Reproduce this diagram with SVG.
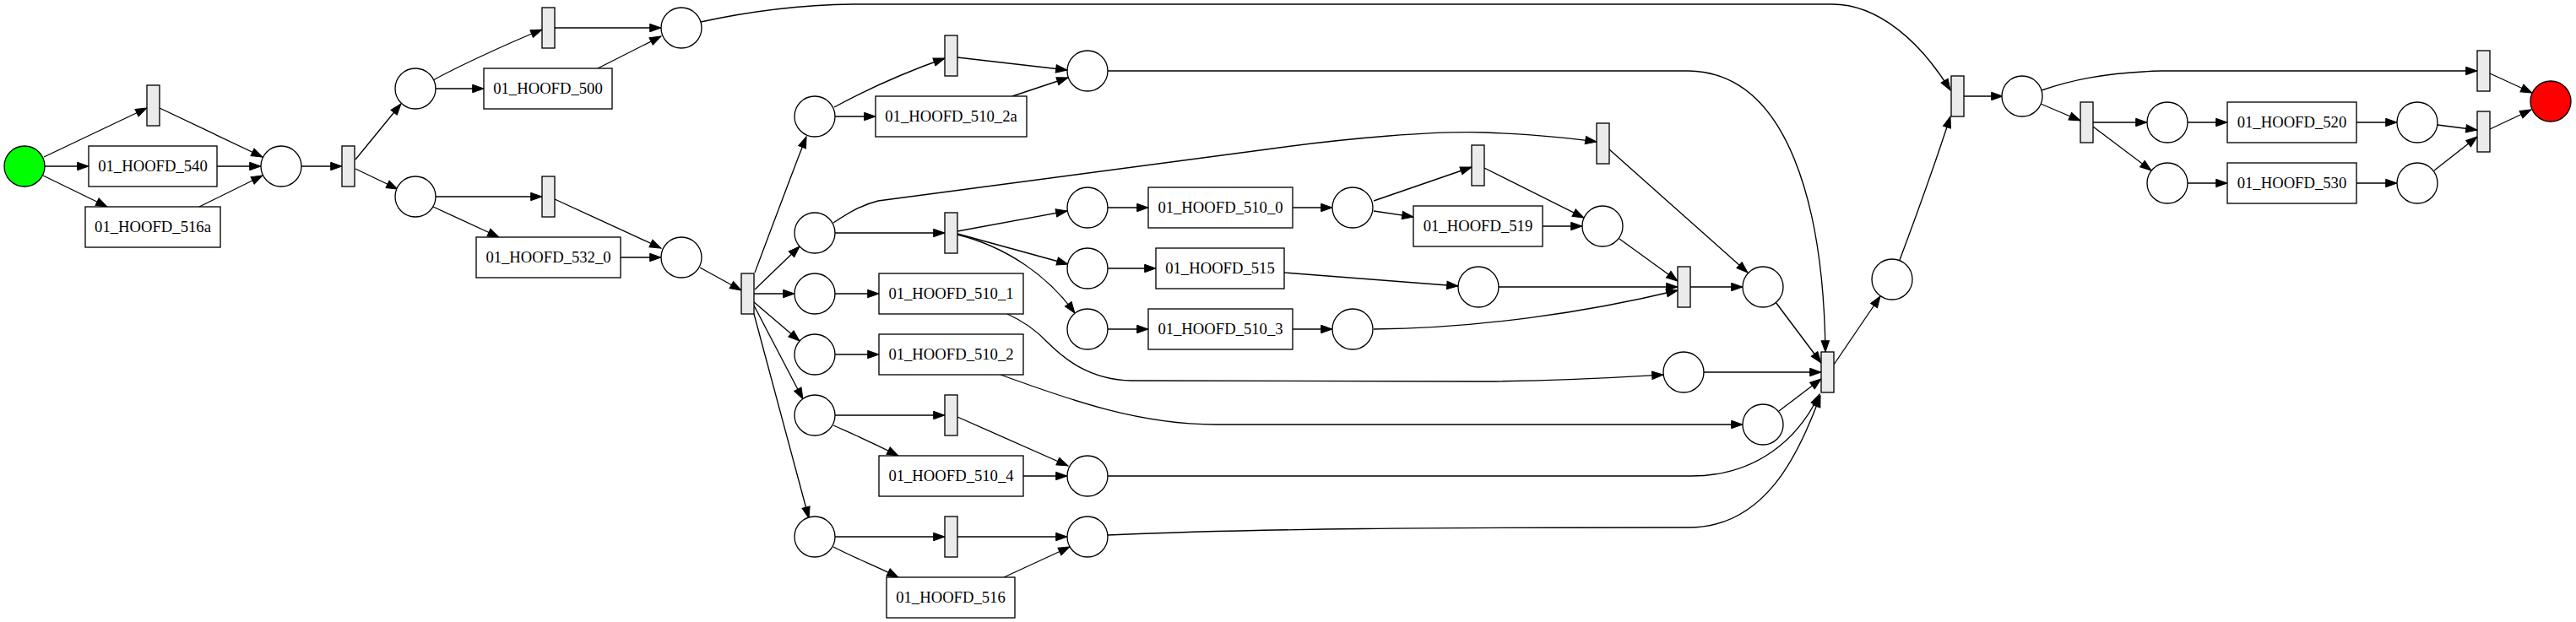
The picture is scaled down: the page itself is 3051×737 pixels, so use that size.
<svg xmlns="http://www.w3.org/2000/svg" width="3051" height="737" viewBox="0 0 3051 737">
<defs>
<marker id="ah" viewBox="0 0 14 10" refX="13.3" refY="5" markerWidth="14" markerHeight="10" markerUnits="userSpaceOnUse" orient="auto" overflow="visible">
<path d="M0,0.3 L13.3,5 L0,9.7 z" fill="#000" stroke="#000" stroke-width="1"/>
</marker>
</defs>
<style>
.pl{fill:#fff;stroke:#000;stroke-width:1.33}
.tr{fill:#ebebeb;stroke:#000;stroke-width:1.33}
.bx{fill:#fff;stroke:#000;stroke-width:1.33}
.lb{font-family:"Liberation Serif","Times New Roman",serif;font-size:18.67px;text-anchor:middle;fill:#000}
.e{fill:none;stroke:#000;stroke-width:1.33;marker-end:url(#ah)}
</style>
<rect width="3051" height="737" fill="#fff"/>
<g id="connectors">
<path class="e" d="M52,186 L174,128"/>
<path class="e" d="M53,197 L105,197"/>
<path class="e" d="M51,208 L127,245"/>
<path class="e" d="M189,128 L311,186"/>
<path class="e" d="M257,197 L309,197"/>
<path class="e" d="M236,245 L311,208"/>
<path class="e" d="M357,197 L405,197"/>
<path class="e" d="M421,189 L475,123"/>
<path class="e" d="M421,200 L471,224"/>
<path class="e" d="M513,95 C540,80 600,52 642,35"/>
<path class="e" d="M516,105 L573,105"/>
<path class="e" d="M657,33 L783,33"/>
<path class="e" d="M708,81 L783,43"/>
<path class="e" d="M830,26 C880,15 940,6 1010,5 L2170,5 C2225,5 2275,50 2310,107"/>
<path class="e" d="M516,233 L642,233"/>
<path class="e" d="M513,245 L591,281"/>
<path class="e" d="M657,236 L783,294"/>
<path class="e" d="M735,305 L783,305"/>
<path class="e" d="M829,317 L878,344"/>
<path class="e" d="M894,323 C903,299 940,200 955,162"/>
<path class="e" d="M894,343 L947,292"/>
<path class="e" d="M893,348 L941,348"/>
<path class="e" d="M893,358 L947,404"/>
<path class="e" d="M893,362 L951,473"/>
<path class="e" d="M893,372 L958,614"/>
<path class="e" d="M988,127 C1010,115 1060,90 1119,69"/>
<path class="e" d="M989,138 L1037,138"/>
<path class="e" d="M1134,68 L1264,83"/>
<path class="e" d="M1199,114 L1265,92"/>
<path class="e" d="M1312,84 L2000,84 C2120,86 2160,250 2162,417"/>
<path class="e" d="M989,276 L1119,276"/>
<path class="e" d="M987,264 C1005,252 1020,243 1040,238 L1500,177 C1600,163 1700,155 1760,157 C1810,159 1850,162 1891,168"/>
<path class="e" d="M989,348 L1041,348"/>
<path class="e" d="M989,420 L1041,420"/>
<path class="e" d="M1134,274 L1264,250"/>
<path class="e" d="M1134,277 L1265,313"/>
<path class="e" d="M1134,278 C1190,292 1240,325 1273,371"/>
<path class="e" d="M1312,246 L1360,246"/>
<path class="e" d="M1531,246 L1578,246"/>
<path class="e" d="M1627,238 L1743,198"/>
<path class="e" d="M1627,250 L1674,257"/>
<path class="e" d="M1758,199 L1876,258"/>
<path class="e" d="M1827,268 L1874,268"/>
<path class="e" d="M1918,283 L1987,333"/>
<path class="e" d="M1906,177 L2070,323"/>
<path class="e" d="M1312,318 L1369,318"/>
<path class="e" d="M1521,323 L1727,339"/>
<path class="e" d="M1775,340 L1987,340"/>
<path class="e" d="M1312,390 L1360,390"/>
<path class="e" d="M1531,390 L1578,390"/>
<path class="e" d="M1627,390 C1750,389 1880,370 1987,344"/>
<path class="e" d="M2002,340 L2064,340"/>
<path class="e" d="M2103,358 L2157,430"/>
<path class="e" d="M2018,441 L2157,441"/>
<path class="e" d="M2107,487 L2157,449"/>
<path class="e" d="M1193,372 C1215,382 1228,392 1240,405 C1260,425 1290,450 1340,451 L1760,452 C1860,451 1920,447 1970,444"/>
<path class="e" d="M1185,444 C1270,475 1350,503 1440,503 L2064,503"/>
<path class="e" d="M1134,494 L1265,552"/>
<path class="e" d="M989,492 L1119,492"/>
<path class="e" d="M987,504 C1010,514 1040,528 1064,540"/>
<path class="e" d="M1212,564 L1264,564"/>
<path class="e" d="M1312,564 L2000,564 C2080,565 2130,520 2155,467"/>
<path class="e" d="M989,636 L1119,636"/>
<path class="e" d="M987,648 C1010,660 1040,672 1064,684"/>
<path class="e" d="M1134,636 L1264,636"/>
<path class="e" d="M1189,684 L1267,648"/>
<path class="e" d="M1312,634 C1500,626 1700,625 2000,625 C2090,625 2130,540 2156,469"/>
<path class="e" d="M2172,432 L2227,351"/>
<path class="e" d="M2250,308 C2265,268 2290,200 2310,138"/>
<path class="e" d="M2326,114 L2372,114"/>
<path class="e" d="M2417,123 L2464,143"/>
<path class="e" d="M2418,107 C2450,96 2490,86 2560,84 L2934,84"/>
<path class="e" d="M2479,145 L2543,145"/>
<path class="e" d="M2479,150 L2548,202"/>
<path class="e" d="M2591,145 L2638,145"/>
<path class="e" d="M2791,145 L2839,145"/>
<path class="e" d="M2591,217 L2638,217"/>
<path class="e" d="M2791,217 L2839,217"/>
<path class="e" d="M2887,148 L2934,154"/>
<path class="e" d="M2883,202 L2934,162"/>
<path class="e" d="M2949,87 L2999,110"/>
<path class="e" d="M2949,153 L2998,130"/>
</g>
<g id="source"><circle cx="29" cy="197" r="24" class="pl" style="fill:#00ff00"/></g>
<g id="sink"><circle cx="3021" cy="120" r="24" class="pl" style="fill:#ff0000"/></g>
<g id="p1"><circle cx="333" cy="197" r="24" class="pl"/></g>
<g id="p2"><circle cx="492" cy="105" r="24" class="pl"/></g>
<g id="p3"><circle cx="492" cy="233" r="24" class="pl"/></g>
<g id="p4"><circle cx="807" cy="33" r="24" class="pl"/></g>
<g id="p5"><circle cx="807" cy="305" r="24" class="pl"/></g>
<g id="p6"><circle cx="965" cy="138" r="24" class="pl"/></g>
<g id="p7"><circle cx="965" cy="276" r="24" class="pl"/></g>
<g id="p8"><circle cx="965" cy="348" r="24" class="pl"/></g>
<g id="p9"><circle cx="965" cy="420" r="24" class="pl"/></g>
<g id="p10"><circle cx="965" cy="492" r="24" class="pl"/></g>
<g id="p11"><circle cx="965" cy="636" r="24" class="pl"/></g>
<g id="p12"><circle cx="1288" cy="84" r="24" class="pl"/></g>
<g id="p13"><circle cx="1288" cy="246" r="24" class="pl"/></g>
<g id="p14"><circle cx="1288" cy="318" r="24" class="pl"/></g>
<g id="p15"><circle cx="1288" cy="390" r="24" class="pl"/></g>
<g id="p16"><circle cx="1288" cy="564" r="24" class="pl"/></g>
<g id="p17"><circle cx="1288" cy="636" r="24" class="pl"/></g>
<g id="p18"><circle cx="1602" cy="246" r="24" class="pl"/></g>
<g id="p19"><circle cx="1602" cy="390" r="24" class="pl"/></g>
<g id="p20"><circle cx="1751" cy="340" r="24" class="pl"/></g>
<g id="p21"><circle cx="1898" cy="268" r="24" class="pl"/></g>
<g id="p22"><circle cx="1994" cy="441" r="24" class="pl"/></g>
<g id="p23"><circle cx="2088" cy="340" r="24" class="pl"/></g>
<g id="p24"><circle cx="2088" cy="503" r="24" class="pl"/></g>
<g id="p25"><circle cx="2241" cy="331" r="24" class="pl"/></g>
<g id="p26"><circle cx="2395" cy="114" r="24" class="pl"/></g>
<g id="p27"><circle cx="2567" cy="145" r="24" class="pl"/></g>
<g id="p28"><circle cx="2567" cy="217" r="24" class="pl"/></g>
<g id="p29"><circle cx="2863" cy="145" r="24" class="pl"/></g>
<g id="p30"><circle cx="2863" cy="217" r="24" class="pl"/></g>
<g id="t1"><rect x="174" y="101" width="15" height="48" class="tr"/></g>
<g id="t2"><rect x="405" y="173" width="15" height="48" class="tr"/></g>
<g id="t3"><rect x="642" y="9" width="15" height="48" class="tr"/></g>
<g id="t4"><rect x="642" y="209" width="15" height="48" class="tr"/></g>
<g id="t5"><rect x="878" y="324" width="15" height="48" class="tr"/></g>
<g id="t6"><rect x="1119" y="42" width="15" height="48" class="tr"/></g>
<g id="t7"><rect x="1119" y="252" width="15" height="48" class="tr"/></g>
<g id="t8"><rect x="1119" y="468" width="15" height="48" class="tr"/></g>
<g id="t9"><rect x="1119" y="612" width="15" height="48" class="tr"/></g>
<g id="t10"><rect x="1743" y="172" width="15" height="48" class="tr"/></g>
<g id="t11"><rect x="1891" y="146" width="15" height="48" class="tr"/></g>
<g id="t12"><rect x="1987" y="316" width="15" height="48" class="tr"/></g>
<g id="t13"><rect x="2157" y="417" width="15" height="48" class="tr"/></g>
<g id="t14"><rect x="2311" y="90" width="15" height="48" class="tr"/></g>
<g id="t15"><rect x="2464" y="121" width="15" height="48" class="tr"/></g>
<g id="t16"><rect x="2934" y="60" width="15" height="48" class="tr"/></g>
<g id="t17"><rect x="2934" y="132" width="15" height="48" class="tr"/></g>
<g id="a540"><rect x="105" y="173" width="152" height="48" class="bx"/><text x="181" y="203" class="lb">01_HOOFD_540</text></g>
<g id="a516a"><rect x="101" y="245" width="160" height="48" class="bx"/><text x="181" y="275" class="lb">01_HOOFD_516a</text></g>
<g id="a500"><rect x="573" y="81" width="152" height="48" class="bx"/><text x="649" y="111" class="lb">01_HOOFD_500</text></g>
<g id="a532_0"><rect x="564" y="281" width="171" height="48" class="bx"/><text x="649.5" y="311" class="lb">01_HOOFD_532_0</text></g>
<g id="a510_2a"><rect x="1037" y="114" width="179" height="48" class="bx"/><text x="1126.5" y="144" class="lb">01_HOOFD_510_2a</text></g>
<g id="a510_1"><rect x="1041" y="324" width="171" height="48" class="bx"/><text x="1126.5" y="354" class="lb">01_HOOFD_510_1</text></g>
<g id="a510_2"><rect x="1041" y="396" width="171" height="48" class="bx"/><text x="1126.5" y="426" class="lb">01_HOOFD_510_2</text></g>
<g id="a510_4"><rect x="1041" y="540" width="171" height="48" class="bx"/><text x="1126.5" y="570" class="lb">01_HOOFD_510_4</text></g>
<g id="a516"><rect x="1050" y="684" width="152" height="48" class="bx"/><text x="1126" y="714" class="lb">01_HOOFD_516</text></g>
<g id="a510_0"><rect x="1360" y="222" width="171" height="48" class="bx"/><text x="1445.5" y="252" class="lb">01_HOOFD_510_0</text></g>
<g id="a515"><rect x="1369" y="294" width="152" height="48" class="bx"/><text x="1445" y="324" class="lb">01_HOOFD_515</text></g>
<g id="a510_3"><rect x="1360" y="366" width="171" height="48" class="bx"/><text x="1445.5" y="396" class="lb">01_HOOFD_510_3</text></g>
<g id="a519"><rect x="1674" y="244" width="153" height="48" class="bx"/><text x="1750.5" y="274" class="lb">01_HOOFD_519</text></g>
<g id="a520"><rect x="2638" y="121" width="153" height="48" class="bx"/><text x="2714.5" y="151" class="lb">01_HOOFD_520</text></g>
<g id="a530"><rect x="2638" y="193" width="153" height="48" class="bx"/><text x="2714.5" y="223" class="lb">01_HOOFD_530</text></g>
</svg>
